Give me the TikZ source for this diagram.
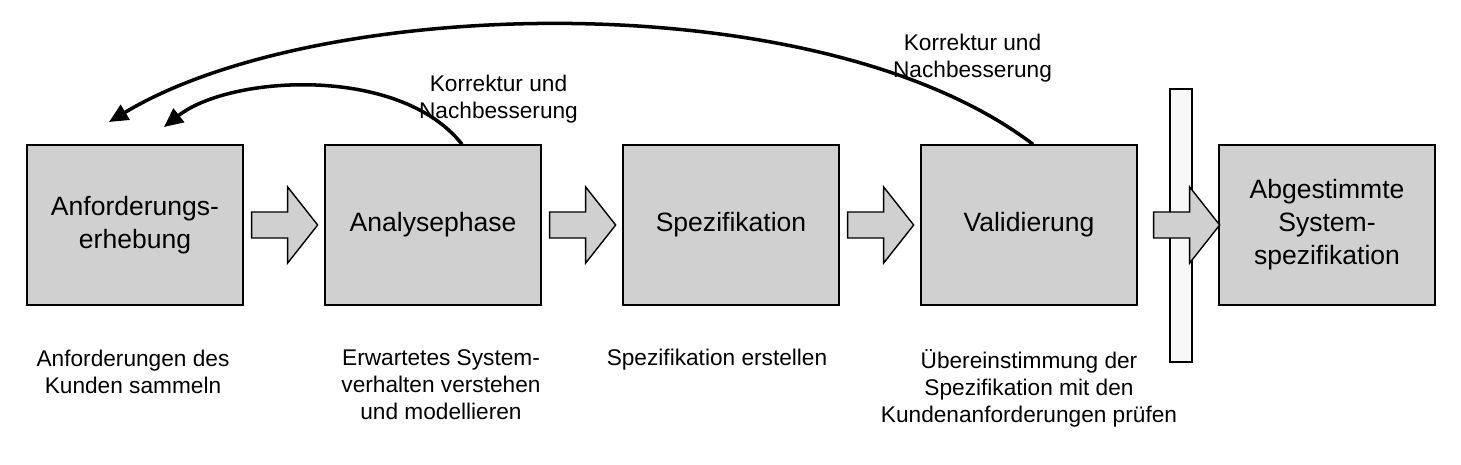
\documentclass[tikz,border=0pt]{standalone}
\usepackage{fontspec}
\setmainfont{Liberation Sans}
\usetikzlibrary{arrows.meta, positioning}

\definecolor{boxgray}{RGB}{208,208,208}
\definecolor{gategray}{RGB}{248,248,248}

\begin{document}
\begin{tikzpicture}[x=0.02cm, y=-0.02cm,
    phase/.style={draw=black, fill=boxgray, line width=0.8pt, inner sep=0pt,
      minimum width=4.32cm, minimum height=3.2cm, align=center,
      font=\fontsize{15.1}{18.8}\selectfont},
    note/.style={align=center, inner sep=0pt, font=\fontsize{12.9}{15.4}\selectfont},
    feedback/.style={line width=2pt, -{Triangle[length=0.38cm, width=0.34cm]}},
    pics/blockarrow/.style={code={
      \draw[fill=boxgray, line width=0.8pt] (0,-13) -- (36,-13) -- (36,-38) -- (66,0)
        -- (36,38) -- (36,13) -- (0,13) -- cycle;}}
  ]
  \useasboundingbox (0,0) rectangle (1461,464);

  % Phases
  \node[phase] (erhebung) at (135,225) {Anforderungs-\\erhebung};
  \node[phase] (analyse) at (433,225) {Analysephase};
  \node[phase] (spezifikation) at (731,225) {Spezifikation};
  \node[phase] (validierung) at (1029,225) {Validierung};
  \node[phase] (ergebnis) at (1327,225) {Abgestimmte\\System-\\spezifikation};

  % Gate before the result
  \node[draw, fill=gategray, line width=0.8pt, inner sep=0pt,
    minimum width=0.44cm, minimum height=5.46cm] (gate) at (1181,225.5) {};

  % Block arrows between phases
  \pic at ([xshift=0.16cm]erhebung.east) {blockarrow};
  \pic at ([xshift=0.16cm]analyse.east) {blockarrow};
  \pic at ([xshift=0.16cm]spezifikation.east) {blockarrow};
  \pic at ([xshift=0.32cm]validierung.east) {blockarrow};

  % Descriptions below
  \node[note] (n1) at (133,371.5) {Anforderungen des\\Kunden sammeln};
  \node[note] (n2) at (441,385) {Erwartetes System-\\verhalten verstehen\\und modellieren};
  \node[note] (n3) at (717,360) {Spezifikation erstellen};
  \node[note] (n4) at (1029,388) {Übereinstimmung der\\Spezifikation mit den\\Kundenanforderungen prüfen};

  % Feedback loops
  \coordinate (tipA) at (164,127);
  \coordinate (tipB) at (109,122);
  \draw[feedback] ([xshift=0.58cm]analyse.north) .. controls (400,65) and (230,75) .. (tipA);
  \draw[feedback] ([xshift=0.08cm]validierung.north) .. controls (820,-18) and (320,-5) .. (tipB);
  \node[note] (k1) at (498.5,99) {Korrektur und\\Nachbesserung};
  \node[note] (k2) at (972.5,58.5) {Korrektur und\\Nachbesserung};
\end{tikzpicture}
\end{document}
